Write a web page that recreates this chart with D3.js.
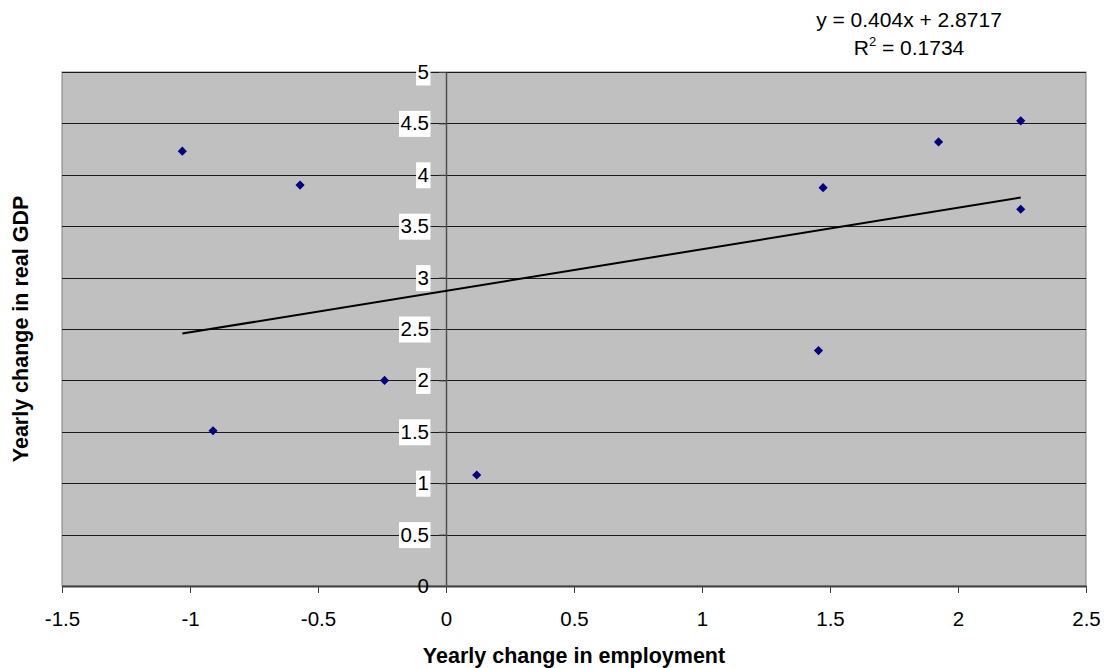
<!DOCTYPE html>
<html>
<head>
<meta charset="utf-8">
<script src="https://cdn.jsdelivr.net/npm/d3@7"></script>
<style>
  body { margin: 0; background: #fff; }
  text { font-family: Arial, "Liberation Sans", sans-serif; fill: #000; }
</style>
</head>
<body>
<div id="chart"></div>
<script>
const width = 1111;
const height = 668;

// yearly change in employment (x) and in real GDP (y)
const employment = [-1.03, -0.57, -0.91, -0.24, 0.12, 1.455, 1.473, 1.924, 2.245, 2.245];
const gdp = [4.23, 3.90, 1.51, 2.00, 1.08, 2.29, 3.875, 4.32, 4.525, 3.665];

const xTicks = [-1.5, -1, -0.5, 0, 0.5, 1, 1.5, 2, 2.5];
const yTicks = [0, 0.5, 1, 1.5, 2, 2.5, 3, 3.5, 4, 4.5, 5];

// linear trendline as printed on the chart
const slope = 0.404;
const intercept = 2.8717;
const rSquared = 0.1734;

const margin = { top: 72, right: 25, bottom: 82, left: 62 };

const svg = d3
  .select("#chart")
  .append("svg")
  .attr("width", width)
  .attr("height", height);

const x = d3.scaleLinear([-1.5, 2.5], [margin.left, width - margin.right]);
const y = d3.scaleLinear([0, 5], [height - margin.bottom, margin.top]);

const points = employment.map((e, i) => ({ x: e, y: gdp[i] }));

// plot area
svg
  .append("rect")
  .attr("x", x(-1.5))
  .attr("y", y(5))
  .attr("width", x(2.5) - x(-1.5))
  .attr("height", y(0) - y(5))
  .attr("fill", "#c0c0c0")
  .attr("stroke", "#808080")
  .attr("stroke-width", 1);

// horizontal gridlines
svg
  .append("g")
  .selectAll("line")
  .data(yTicks.filter((d) => d > 0))
  .enter()
  .append("line")
  .attr("x1", x(-1.5))
  .attr("x2", x(2.5))
  .attr("y1", (d) => Math.round(y(d)) + 0.5)
  .attr("y2", (d) => Math.round(y(d)) + 0.5)
  .attr("stroke", "#1a1a1a")
  .attr("stroke-width", 1);

// x axis along the bottom
const xAxis = svg
  .append("g")
  .attr("transform", `translate(0,${y(0)})`)
  .call(
    d3
      .axisBottom(x)
      .tickValues(xTicks)
      .tickFormat((d) => String(d))
      .tickSizeInner(7)
      .tickSizeOuter(0)
      .tickPadding(18)
  );
xAxis.select(".domain").attr("stroke", "#404040").attr("stroke-width", 2);
xAxis.selectAll(".tick line").attr("stroke", "#404040");
xAxis
  .selectAll(".tick text")
  .attr("font-size", "20.5px")
  .attr("font-family", "Arial, 'Liberation Sans', sans-serif")
  .attr("fill", "#000");

// y axis crosses at x = 0
const yAxis = svg
  .append("g")
  .attr("transform", `translate(${x(0)},0)`)
  .call(
    d3
      .axisLeft(y)
      .tickValues(yTicks)
      .tickFormat((d) => String(d))
      .tickSizeInner(7)
      .tickSizeOuter(0)
      .tickPadding(10)
  );
yAxis.select(".domain").attr("stroke", "#505050").attr("stroke-width", 1.5);
yAxis.selectAll(".tick line").attr("stroke", "#404040");
yAxis
  .selectAll(".tick text")
  .attr("font-size", "20.5px")
  .attr("font-family", "Arial, 'Liberation Sans', sans-serif")
  .attr("fill", "#000");

// white boxes behind the y labels (not the zero one)
yAxis.selectAll(".tick").each(function (d) {
  if (d === 0) return;
  const t = d3.select(this).select("text");
  const b = t.node().getBBox();
  d3.select(this)
    .insert("rect", "text")
    .attr("x", b.x - 1.5)
    .attr("y", -13)
    .attr("width", b.width + 3)
    .attr("height", 26)
    .attr("fill", "#fff");
});

// trendline over the data range
const xExtent = d3.extent(points, (d) => d.x);
svg
  .append("line")
  .attr("x1", x(xExtent[0]))
  .attr("y1", y(slope * xExtent[0] + intercept))
  .attr("x2", x(xExtent[1]))
  .attr("y2", y(slope * xExtent[1] + intercept))
  .attr("stroke", "#000")
  .attr("stroke-width", 2);

// diamond markers
svg
  .append("g")
  .selectAll("path")
  .data(points)
  .enter()
  .append("path")
  .attr("d", d3.symbol(d3.symbolSquare, 42))
  .attr("transform", (d) => `translate(${x(d.x)},${y(d.y)}) rotate(45)`)
  .attr("fill", "#000080");

// trendline equation
const eq = svg
  .append("text")
  .attr("text-anchor", "middle")
  .attr("font-size", "21px");
eq.append("tspan")
  .attr("x", 909)
  .attr("y", 27)
  .text(`y = ${slope}x + ${intercept}`);
const r2 = eq.append("tspan").attr("x", 909).attr("y", 55);
r2.append("tspan").text("R");
r2.append("tspan").attr("font-size", "13px").attr("dy", -9).text("2");
r2.append("tspan").attr("dy", 9).text(` = ${rSquared}`);

// axis titles
svg
  .append("text")
  .attr("x", (x(-1.5) + x(2.5)) / 2)
  .attr("y", 663)
  .attr("text-anchor", "middle")
  .attr("font-size", "21.5px")
  .attr("font-weight", "bold")
  .text("Yearly change in employment");

svg
  .append("text")
  .attr("transform", `translate(28,${(y(0) + y(5)) / 2}) rotate(-90)`)
  .attr("text-anchor", "middle")
  .attr("font-size", "21.5px")
  .attr("font-weight", "bold")
  .text("Yearly change in real GDP");
</script>
</body>
</html>
